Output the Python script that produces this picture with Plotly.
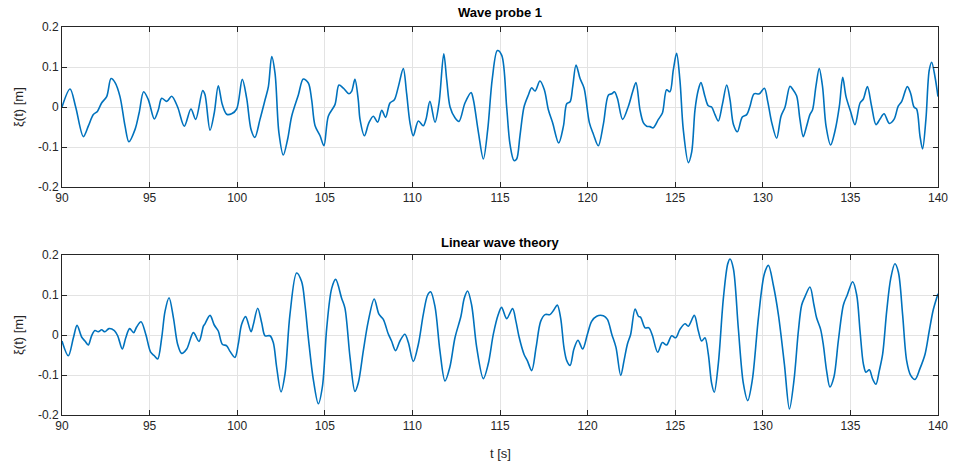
import plotly.graph_objects as go

t_probe = [90.0, 90.46, 90.78, 91.22, 91.5, 91.79, 92.02, 92.26, 92.55, 92.8, 93.03, 93.31, 93.6, 93.82, 94.17, 94.4, 94.66, 94.93, 95.27, 95.5, 95.69, 95.98, 96.26, 96.6, 96.98, 97.36, 97.63, 98.03, 98.16, 98.45, 98.69, 98.92, 99.15, 99.4, 99.68, 99.97, 100.29, 100.54, 100.79, 101.01, 101.3, 101.59, 101.78, 101.97, 102.16, 102.38, 102.63, 102.88, 103.11, 103.49, 103.77, 104.06, 104.25, 104.44, 104.73, 104.95, 105.2, 105.58, 105.81, 106.06, 106.38, 106.53, 106.72, 106.91, 107.01, 107.26, 107.52, 107.77, 108.02, 108.25, 108.47, 108.72, 108.97, 109.2, 109.48, 109.67, 109.86, 110.05, 110.34, 110.62, 110.78, 111.0, 111.29, 111.52, 111.79, 111.96, 112.15, 112.43, 112.66, 113.0, 113.35, 113.48, 113.77, 114.05, 114.3, 114.56, 114.85, 115.1, 115.38, 115.57, 115.8, 115.95, 116.14, 116.37, 116.62, 116.81, 117.0, 117.28, 117.53, 117.76, 118.0, 118.35, 118.62, 118.81, 119.0, 119.15, 119.34, 119.57, 119.8, 120.1, 120.33, 120.61, 120.9, 121.19, 121.38, 121.53, 121.7, 122.0, 122.33, 122.57, 122.76, 122.99, 123.18, 123.37, 123.56, 123.75, 124.04, 124.27, 124.51, 124.7, 124.89, 125.08, 125.27, 125.46, 125.75, 125.94, 126.13, 126.32, 126.47, 126.7, 126.89, 127.08, 127.27, 127.46, 127.69, 127.94, 128.13, 128.32, 128.55, 128.83, 129.08, 129.27, 129.5, 129.8, 130.09, 130.28, 130.51, 130.79, 131.04, 131.27, 131.55, 131.7, 131.93, 132.12, 132.31, 132.5, 132.69, 132.84, 133.03, 133.22, 133.41, 133.61, 133.87, 134.12, 134.37, 134.56, 134.75, 135.01, 135.26, 135.55, 135.74, 135.97, 136.21, 136.46, 136.69, 136.92, 137.22, 137.49, 137.73, 137.93, 138.25, 138.44, 138.63, 138.78, 138.97, 139.12, 139.31, 139.5, 139.64, 139.83, 140.0]
xi_probe = [0.0, 0.045, 0.0, -0.074, -0.048, -0.019, -0.011, 0.01, 0.026, 0.071, 0.061, 0.026, -0.048, -0.087, -0.056, -0.015, 0.038, 0.018, -0.03, -0.007, 0.022, 0.014, 0.027, 0.0, -0.048, -0.005, -0.031, 0.041, 0.031, -0.058, -0.015, 0.053, 0.006, -0.018, -0.017, -0.005, 0.069, 0.022, -0.056, -0.076, -0.031, 0.018, 0.051, 0.126, 0.084, -0.064, -0.12, -0.08, -0.023, 0.03, 0.07, 0.06, 0.018, -0.046, -0.072, -0.097, -0.023, 0.006, 0.055, 0.047, 0.033, 0.039, 0.069, 0.018, -0.031, -0.072, -0.039, -0.023, -0.038, -0.008, -0.026, 0.01, 0.018, 0.051, 0.096, 0.034, -0.039, -0.072, -0.035, -0.047, -0.03, 0.014, -0.038, 0.01, 0.133, 0.067, 0.0, -0.027, -0.036, 0.01, 0.036, 0.018, -0.064, -0.13, -0.056, 0.071, 0.141, 0.129, 0.0, -0.093, -0.134, -0.13, -0.072, 0.0, 0.03, 0.048, 0.04, 0.065, 0.043, -0.007, -0.039, -0.09, -0.048, 0.008, 0.013, 0.051, 0.105, 0.071, 0.047, -0.039, -0.068, -0.097, -0.043, 0.03, 0.033, 0.038, 0.022, -0.031, 0.002, 0.038, 0.061, -0.007, -0.039, -0.048, -0.049, -0.052, -0.031, -0.015, 0.043, 0.038, 0.092, 0.134, 0.067, -0.056, -0.139, -0.113, -0.007, 0.043, 0.061, 0.026, 0.003, 0.0, -0.019, -0.035, 0.006, 0.055, 0.018, -0.043, -0.062, -0.025, -0.019, 0.002, 0.033, 0.033, 0.047, 0.014, -0.039, -0.078, -0.023, 0.0, 0.052, 0.045, 0.028, -0.031, -0.074, -0.048, -0.019, -0.007, 0.051, 0.096, 0.051, -0.048, -0.095, -0.06, 0.002, 0.074, 0.026, -0.011, -0.044, 0.01, 0.02, 0.051, 0.002, -0.044, -0.03, -0.017, -0.041, -0.031, 0.002, 0.014, 0.051, 0.034, 0.0, -0.005, -0.072, -0.105, -0.031, 0.092, 0.112, 0.075, 0.026]

t_linear = [90.0, 90.36, 90.65, 90.86, 91.12, 91.31, 91.5, 91.69, 91.88, 92.07, 92.26, 92.45, 92.68, 92.99, 93.18, 93.44, 93.64, 93.86, 94.09, 94.26, 94.51, 94.78, 95.06, 95.27, 95.46, 95.69, 95.88, 96.11, 96.36, 96.6, 96.83, 97.12, 97.5, 97.82, 98.07, 98.16, 98.45, 98.69, 98.92, 99.15, 99.4, 99.59, 99.87, 100.06, 100.25, 100.48, 100.79, 100.92, 101.17, 101.4, 101.59, 101.87, 102.06, 102.25, 102.5, 102.73, 103.01, 103.39, 103.68, 103.87, 104.06, 104.35, 104.63, 104.86, 105.11, 105.39, 105.62, 105.96, 106.15, 106.44, 106.72, 106.91, 107.2, 107.48, 107.82, 108.09, 108.34, 108.62, 108.81, 109.04, 109.29, 109.57, 109.77, 110.05, 110.34, 110.62, 110.87, 111.04, 111.29, 111.57, 111.86, 112.14, 112.43, 112.77, 112.96, 113.15, 113.38, 113.67, 114.05, 114.33, 114.62, 114.9, 115.09, 115.38, 115.72, 115.91, 116.1, 116.37, 116.56, 116.81, 117.06, 117.32, 117.57, 117.85, 118.08, 118.27, 118.46, 118.65, 118.81, 119.0, 119.22, 119.45, 119.72, 119.99, 120.23, 120.52, 120.9, 121.13, 121.38, 121.62, 121.89, 122.08, 122.27, 122.46, 122.71, 122.9, 123.03, 123.28, 123.5, 123.69, 124.0, 124.27, 124.51, 124.8, 125.03, 125.27, 125.56, 125.75, 126.09, 126.32, 126.51, 126.7, 126.89, 127.08, 127.23, 127.46, 127.75, 128.0, 128.13, 128.32, 128.6, 128.89, 129.14, 129.4, 129.75, 130.09, 130.32, 130.6, 130.89, 131.23, 131.52, 131.78, 132.03, 132.22, 132.41, 132.69, 132.92, 133.07, 133.3, 133.45, 133.64, 133.83, 134.06, 134.31, 134.6, 134.82, 135.13, 135.36, 135.55, 135.74, 135.89, 136.08, 136.27, 136.46, 136.65, 136.84, 137.07, 137.3, 137.54, 137.74, 137.98, 138.21, 138.44, 138.69, 138.97, 139.26, 139.5, 139.73, 140.0]
xi_linear = [-0.015, -0.052, -0.007, 0.024, -0.005, -0.015, -0.025, -0.002, 0.011, 0.008, 0.013, 0.008, 0.016, 0.011, -0.002, -0.035, -0.007, 0.016, 0.006, 0.02, 0.033, 0.002, -0.043, -0.052, -0.06, -0.007, 0.059, 0.093, 0.043, -0.023, -0.046, -0.035, 0.006, -0.016, 0.022, 0.028, 0.049, 0.025, 0.01, -0.023, -0.027, -0.041, -0.056, -0.023, 0.026, 0.046, 0.008, 0.026, 0.067, 0.03, -0.002, -0.002, -0.019, -0.08, -0.142, -0.097, 0.051, 0.155, 0.133, 0.075, -0.007, -0.113, -0.172, -0.13, 0.018, 0.116, 0.139, 0.092, 0.067, -0.056, -0.141, -0.12, -0.039, 0.034, 0.09, 0.052, 0.039, 0.003, -0.015, -0.039, -0.015, 0.002, -0.019, -0.066, -0.023, 0.051, 0.1, 0.108, 0.071, -0.039, -0.115, -0.08, -0.007, 0.047, 0.092, 0.11, 0.075, -0.031, -0.109, -0.072, 0.002, 0.051, 0.069, 0.041, 0.066, 0.034, -0.007, -0.048, -0.064, -0.089, -0.031, 0.034, 0.051, 0.051, 0.063, 0.075, 0.043, -0.031, -0.064, -0.076, -0.035, -0.013, -0.035, 0.002, 0.034, 0.047, 0.048, 0.039, 0.002, -0.031, -0.101, -0.064, -0.023, 0.002, 0.065, 0.047, 0.044, 0.018, 0.018, 0.0, -0.043, -0.019, -0.025, -0.002, -0.007, 0.014, 0.028, 0.022, 0.049, 0.01, -0.015, -0.007, -0.048, -0.121, -0.143, -0.072, 0.092, 0.178, 0.19, 0.166, 0.018, -0.121, -0.164, -0.113, 0.043, 0.153, 0.174, 0.125, 0.051, -0.072, -0.185, -0.113, 0.01, 0.075, 0.096, 0.12, 0.075, 0.043, 0.014, -0.023, -0.089, -0.13, -0.105, -0.015, 0.075, 0.1, 0.133, 0.1, 0.01, -0.072, -0.093, -0.087, -0.11, -0.123, -0.089, -0.048, 0.059, 0.141, 0.178, 0.157, 0.051, -0.064, -0.101, -0.111, -0.084, -0.048, 0.01, 0.063, 0.103]

x_ticks = [90, 95, 100, 105, 110, 115, 120, 125, 130, 135, 140]
y_ticks = [-0.2, -0.1, 0, 0.1, 0.2]
y_ticktext = ["-0.2", "-0.1", "0", "0.1", "0.2"]
titles = ["Wave probe 1", "Linear wave theory"]

W, H = 953, 464
L, R, T, B = 62, 15, 27, 49
PW, PH = W - L - R, H - T - B
line_color = "#0072BD"
font_family = "Liberation Sans, Arial, sans-serif"


def py(ypix):
    return (H - B - ypix) / PH


def px(xpix):
    return (xpix - L) / PW


fig = go.Figure()
fig.add_trace(go.Scatter(x=t_probe, y=xi_probe, mode="lines", xaxis="x", yaxis="y",
                         line=dict(color=line_color, width=1.6, shape="spline", smoothing=0.9),
                         showlegend=False))
fig.add_trace(go.Scatter(x=t_linear, y=xi_linear, mode="lines", xaxis="x2", yaxis="y2",
                         line=dict(color=line_color, width=1.6, shape="spline", smoothing=0.9),
                         showlegend=False))

axis_common = dict(showline=True, linecolor="#262626", linewidth=1, mirror="ticks",
                   ticks="inside", ticklen=5, tickcolor="#262626", automargin=False,
                   showgrid=True, gridcolor="#e3e3e3", gridwidth=1, zeroline=False,
                   tickfont=dict(family=font_family, size=12, color="#262626"))

fig.update_layout(
    width=W, height=H, margin=dict(l=L, r=R, t=T, b=B, autoexpand=False),
    paper_bgcolor="white", plot_bgcolor="white",
    xaxis=dict(domain=[0, 1], range=[90, 140], tickvals=x_ticks, anchor="y", **axis_common),
    yaxis=dict(domain=[py(187), py(27)], range=[-0.2, 0.2], tickvals=y_ticks, ticktext=y_ticktext, anchor="x", **axis_common),
    xaxis2=dict(domain=[0, 1], range=[90, 140], tickvals=x_ticks, anchor="y2", **axis_common),
    yaxis2=dict(domain=[py(415), py(255)], range=[-0.2, 0.2], tickvals=y_ticks, ticktext=y_ticktext, anchor="x2", **axis_common),
    font=dict(family=font_family, color="#262626"),
)

ann = []
ann.append(dict(text="<b>" + titles[0] + "</b>", x=px(500), y=py(13), xref="paper", yref="paper",
                showarrow=False, font=dict(size=13, color="black", family=font_family), xanchor="center", yanchor="middle"))
ann.append(dict(text="<b>" + titles[1] + "</b>", x=px(500), y=py(242), xref="paper", yref="paper",
                showarrow=False, font=dict(size=13, color="black", family=font_family), xanchor="center", yanchor="middle"))
ann.append(dict(text="t [s]", x=px(500), y=py(453), xref="paper", yref="paper",
                showarrow=False, font=dict(size=13, color="#262626", family=font_family), xanchor="center", yanchor="middle"))
for yc in [107, 335]:
    ann.append(dict(text="ξ(t) [m]", x=px(18), y=py(yc), xref="paper", yref="paper", textangle=-90,
                    showarrow=False, font=dict(size=13, color="#262626", family=font_family), xanchor="center", yanchor="middle"))
fig.update_layout(annotations=ann)

fig.write_html("out.html")
